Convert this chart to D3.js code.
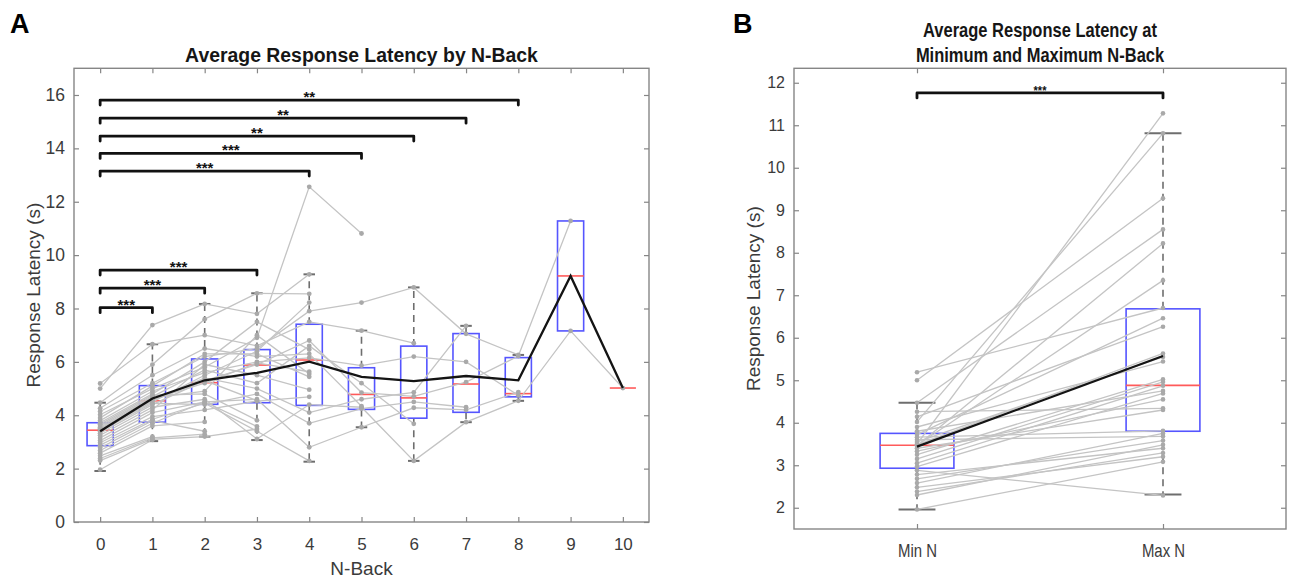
<!DOCTYPE html>
<html>
<head>
<meta charset="utf-8">
<script src="https://cdn.jsdelivr.net/npm/d3@7"></script>
<style>
  html, body { margin: 0; padding: 0; background: #fff; }
  svg { display: block; font-family: "Liberation Sans", Arial, Helvetica, sans-serif; }
</style>
</head>
<body>
<svg id="chart" width="1293" height="581"></svg>
<script>
// ---------- Data: response latency (s) by N-back level ----------
const nBackLevels      = [0, 1, 2, 3, 4, 5, 6, 7, 8, 9, 10];
const levelQ1          = [2.86, 3.74, 4.41, 4.47, 4.37, 4.22, 3.89, 4.11, 4.69, 7.16, 5.02];
const levelMedian      = [3.44, 4.54, 5.22, 5.88, 6.07, 4.78, 4.65, 5.17, 4.81, 9.22, 5.02];
const levelQ3          = [3.72, 5.11, 6.11, 6.46, 7.41, 5.78, 6.59, 7.06, 6.16, 11.28, 5.02];
const levelWhiskerLow  = [1.91, 3.03, 3.20, 3.07, 2.26, 3.55, 2.29, 3.74, 4.54, 7.16, 5.02];
const levelWhiskerHigh = [4.47, 6.66, 8.17, 8.57, 9.28, 7.17, 8.79, 7.35, 6.26, 11.28, 5.02];
const levelMean        = [3.40, 4.63, 5.31, 5.59, 6.01, 5.44, 5.28, 5.47, 5.31, 9.22, 5.02];

// One row per participant: latency at N = 0, 1, 2, ... up to the highest N reached
const subjectLatency = [
  [3.25, 4.30, 4.60, 3.11, 4.40, 4.30, 2.29, 3.74, 4.54, 7.16, 5.02],
  [3.50, 4.60, 5.30, 5.90, 6.80, 4.85, 4.71, 5.24, 6.22, 11.28],
  [4.14, 5.20, 6.20, 6.50, 7.90, 8.22, 8.79, 7.05, 6.26],
  [3.05, 4.10, 4.50, 4.60, 2.80, 3.55, 4.28, 4.20, 4.87],
  [3.80, 4.90, 5.60, 6.00, 6.15, 5.86, 6.20, 6.00, 4.75],
  [3.47, 4.55, 5.40, 5.00, 4.10, 4.60, 4.86, 7.35],
  [3.40, 4.45, 4.40, 4.80, 3.70, 4.25, 4.50, 4.30],
  [5.19, 6.66, 7.00, 6.60, 7.50, 7.17, 6.70],
  [3.60, 4.70, 5.70, 5.20, 6.60, 5.20, 3.68],
  [4.02, 5.00, 5.80, 6.90, 12.56, 10.81],
  [4.26, 5.50, 6.50, 6.20, 6.30, 4.34],
  [5.00, 7.38, 8.17, 7.80, 9.28],
  [4.47, 5.90, 7.60, 8.57, 8.55],
  [3.46, 4.50, 5.50, 6.40, 8.22],
  [3.72, 4.80, 6.00, 7.50, 6.46],
  [3.48, 4.60, 5.20, 5.96, 5.63],
  [3.55, 4.65, 4.90, 7.00, 5.55],
  [3.90, 5.10, 6.30, 6.30, 5.44],
  [3.15, 4.20, 5.90, 5.50, 4.96],
  [2.97, 3.95, 4.20, 4.53, 4.69],
  [2.88, 3.85, 4.45, 3.40, 2.29],
  [3.33, 4.40, 5.30, 4.55],
  [3.66, 4.75, 4.80, 3.81],
  [2.68, 3.70, 4.50, 3.58],
  [2.30, 3.10, 3.20, 3.48],
  [2.58, 3.60, 3.75],
  [2.78, 3.80, 3.40],
  [2.38, 3.15, 3.29],
  [2.48, 3.20],
  [1.96, 3.08]
];

// Significance brackets against N = 0
const sigTargetsA = [1, 2, 3, 4, 5, 6, 7, 8];
const sigHeightsA = [8.03, 8.76, 9.44, 13.15, 13.81, 14.46, 15.13, 15.81];
const sigLabelsA  = ["***", "***", "***", "***", "***", "**", "**", "**"];

// ---------- Data: minimum vs maximum N-back ----------
const extremeLabels      = ["Min N", "Max N"];
const extremeQ1          = [2.93, 3.80];
const extremeMedian      = [3.47, 4.88];
const extremeQ3          = [3.75, 6.68];
const extremeWhiskerLow  = [1.96, 2.31];
const extremeWhiskerHigh = [4.47, 10.81];
const extremeMean        = [3.44, 5.57];
const sigHeightB = 11.76;
const sigLabelB  = "***";

// ---------- Styling ----------
const AXIS = "#868686";
const TEXT = "#3b3b3b";
const BOX_BLUE = "#5555ff";
const MEDIAN_RED = "#ff5a5a";
const WHISKER = "#6e6e6e";
const SUBJ_LINE = "#c4c4c4";
const SUBJ_DOT = "#a9a9a9";

const svg = d3.select("#chart");

function styleAxis(g, fontSize, condense) {
  g.select(".domain").remove();
  g.selectAll(".tick line").attr("stroke", AXIS).attr("stroke-width", 1.2);
  g.selectAll(".tick text")
    .attr("fill", TEXT)
    .style("font-size", fontSize + "px");
  if (condense) g.selectAll(".tick text").attr("transform", `scale(${condense},1)`);
}

function drawFrame(g, x, y, opts) {
  const [x0, x1] = x.range();
  const [y0, y1] = y.range();
  g.append("rect")
    .attr("x", x0).attr("y", y1)
    .attr("width", x1 - x0).attr("height", y0 - y1)
    .attr("fill", "none").attr("stroke", AXIS).attr("stroke-width", 1.4);

  const bottom = g.append("g").attr("transform", `translate(0,${y0})`)
    .call(d3.axisBottom(x).tickValues(opts.xTicks).tickSize(-5)
      .tickPadding(opts.xPad).tickFormat(opts.xFormat));
  styleAxis(bottom, opts.xFont, opts.xCondense);

  const top = g.append("g").attr("transform", `translate(0,${y1})`)
    .call(d3.axisTop(x).tickValues(opts.xTicks).tickSize(-5).tickFormat(""));
  styleAxis(top, opts.xFont);

  const left = g.append("g").attr("transform", `translate(${x0},0)`)
    .call(d3.axisLeft(y).tickValues(opts.yTicks).tickSize(-5).tickPadding(9)
      .tickFormat(d3.format("d")));
  styleAxis(left, opts.yFont);

  const right = g.append("g").attr("transform", `translate(${x1},0)`)
    .call(d3.axisRight(y).tickValues(opts.yTicks).tickSize(-5).tickFormat(""));
  styleAxis(right, opts.yFont);
}

function drawBoxes(g, x, y, positions, q1, med, q3, wLo, wHi, halfWidth, capHalf) {
  positions.forEach((p, i) => {
    const cx = x(p);
    const hw = x(p + halfWidth) - cx;
    const cw = x(p + capHalf) - cx;
    // whiskers
    if (wHi[i] > q3[i] + 1e-6) {
      g.append("line").attr("x1", cx).attr("x2", cx)
        .attr("y1", y(q3[i])).attr("y2", y(wHi[i]))
        .attr("stroke", WHISKER).attr("stroke-width", 1.6).attr("stroke-dasharray", "7,5");
      g.append("line").attr("x1", cx - cw).attr("x2", cx + cw)
        .attr("y1", y(wHi[i])).attr("y2", y(wHi[i]))
        .attr("stroke", WHISKER).attr("stroke-width", 2);
    }
    if (wLo[i] < q1[i] - 1e-6) {
      g.append("line").attr("x1", cx).attr("x2", cx)
        .attr("y1", y(q1[i])).attr("y2", y(wLo[i]))
        .attr("stroke", WHISKER).attr("stroke-width", 1.6).attr("stroke-dasharray", "7,5");
      g.append("line").attr("x1", cx - cw).attr("x2", cx + cw)
        .attr("y1", y(wLo[i])).attr("y2", y(wLo[i]))
        .attr("stroke", WHISKER).attr("stroke-width", 2);
    }
    if (q3[i] - q1[i] > 1e-6) {
      g.append("rect")
        .attr("x", cx - hw).attr("y", y(q3[i]))
        .attr("width", 2 * hw).attr("height", y(q1[i]) - y(q3[i]))
        .attr("fill", "none").attr("stroke", BOX_BLUE).attr("stroke-width", 1.6);
    }
    g.append("line").attr("x1", cx - hw).attr("x2", cx + hw)
      .attr("y1", y(med[i])).attr("y2", y(med[i]))
      .attr("stroke", MEDIAN_RED).attr("stroke-width", 1.6);
  });
}

function drawBracket(g, xStart, xEnd, yPos, label, fontSize, condense) {
  g.append("path")
    .attr("d", `M${xStart},${yPos + 5}V${yPos}H${xEnd}V${yPos + 5}`)
    .attr("fill", "none").attr("stroke", "#111").attr("stroke-width", 2.8)
    .attr("stroke-linejoin", "round").attr("stroke-linecap", "round");
  g.append("text")
    .attr("transform", `translate(${(xStart + xEnd) / 2},${yPos + 2}) scale(${condense || 1},1)`)
    .attr("text-anchor", "middle")
    .attr("fill", "#111")
    .style("font-size", fontSize + "px").style("font-weight", "bold")
    .text(label);
}

// ================= Panel A =================
const xA = d3.scaleLinear().domain([-0.5, 10.5]).range([74, 649]);
const yA = d3.scaleLinear().domain([0, 17]).range([522, 68.3]);
const gA = svg.append("g");

drawFrame(gA, xA, yA, {
  xTicks: nBackLevels, xPad: 16, xFont: 17, xFormat: d3.format("d"),
  yTicks: d3.range(0, 17, 2), yFont: 17.5
});

drawBoxes(gA, xA, yA, nBackLevels, levelQ1, levelMedian, levelQ3,
  levelWhiskerLow, levelWhiskerHigh, 0.25, 0.11);

const lineA = d3.line().x((d, i) => xA(nBackLevels[i])).y(d => yA(d));
gA.append("g").selectAll("path").data(subjectLatency).join("path")
  .attr("d", lineA).attr("fill", "none")
  .attr("stroke", SUBJ_LINE).attr("stroke-width", 1.3);
gA.append("g").selectAll("g").data(subjectLatency).join("g")
  .selectAll("circle").data(d => d.map((v, i) => [nBackLevels[i], v])).join("circle")
  .attr("cx", d => xA(d[0])).attr("cy", d => yA(d[1])).attr("r", 2.4)
  .attr("fill", SUBJ_DOT);

gA.append("path").datum(levelMean).attr("d", lineA)
  .attr("fill", "none").attr("stroke", "#141414").attr("stroke-width", 2.3);

sigTargetsA.forEach((t, i) =>
  drawBracket(gA, xA(0), xA(t), yA(sigHeightsA[i]), sigLabelsA[i], 15));

gA.append("text").attr("x", (xA.range()[0] + xA.range()[1]) / 2).attr("y", 61.7)
  .attr("text-anchor", "middle").attr("fill", "#161616")
  .style("font-size", "19.4px").style("font-weight", "bold")
  .text("Average Response Latency by N-Back");
gA.append("text").attr("x", (xA.range()[0] + xA.range()[1]) / 2).attr("y", 575)
  .attr("text-anchor", "middle").attr("fill", TEXT).style("font-size", "19px")
  .text("N-Back");
gA.append("text").attr("transform", `translate(40,${(yA.range()[0] + yA.range()[1]) / 2}) rotate(-90)`)
  .attr("text-anchor", "middle").attr("fill", TEXT).style("font-size", "19px")
  .text("Response Latency (s)");
gA.append("text").attr("x", 10).attr("y", 33).attr("fill", "#000")
  .style("font-size", "27px").style("font-weight", "bold").text("A");

// ================= Panel B =================
const extremePos = [1, 2];
const xB = d3.scaleLinear().domain([0.5, 2.5]).range([794, 1286]);
const yB = d3.scaleLinear().domain([1.5, 12.34]).range([529, 68.3]);
const gB = svg.append("g");

drawFrame(gB, xB, yB, {
  xTicks: extremePos, xPad: 15.5, xFont: 18, xCondense: 0.83,
  xFormat: (d, i) => extremeLabels[i],
  yTicks: d3.range(2, 13, 1), yFont: 16
});

drawBoxes(gB, xB, yB, extremePos, extremeQ1, extremeMedian, extremeQ3,
  extremeWhiskerLow, extremeWhiskerHigh, 0.15, 0.075);

const minMax = subjectLatency.map(s => [s[0], s[s.length - 1]]);
const lineB = d3.line().x((d, i) => xB(extremePos[i])).y(d => yB(d));
gB.append("g").selectAll("path").data(minMax).join("path")
  .attr("d", lineB).attr("fill", "none")
  .attr("stroke", SUBJ_LINE).attr("stroke-width", 1.3);
gB.append("g").selectAll("g").data(minMax).join("g")
  .selectAll("circle").data(d => d.map((v, i) => [extremePos[i], v])).join("circle")
  .attr("cx", d => xB(d[0])).attr("cy", d => yB(d[1])).attr("r", 2.3)
  .attr("fill", SUBJ_DOT);

gB.append("path").datum(extremeMean).attr("d", lineB)
  .attr("fill", "none").attr("stroke", "#141414").attr("stroke-width", 2.3);

drawBracket(gB, xB(1), xB(2), yB(sigHeightB), sigLabelB, 13, 0.85);

const cxB = (xB.range()[0] + xB.range()[1]) / 2;
["Average Response Latency at", "Minimum and Maximum N-Back"].forEach((line, i) => {
  gB.append("text")
    .attr("transform", `translate(${cxB},${36.7 + i * 25}) scale(0.85,1)`)
    .attr("text-anchor", "middle").attr("fill", "#161616")
    .style("font-size", "19.4px").style("font-weight", "bold")
    .text(line);
});
gB.append("text").attr("transform", `translate(760,${(yB.range()[0] + yB.range()[1]) / 2}) rotate(-90)`)
  .attr("text-anchor", "middle").attr("fill", TEXT).style("font-size", "19px")
  .text("Response Latency (s)");
gB.append("text").attr("x", 733).attr("y", 33).attr("fill", "#000")
  .style("font-size", "27px").style("font-weight", "bold").text("B");
</script>
</body>
</html>
